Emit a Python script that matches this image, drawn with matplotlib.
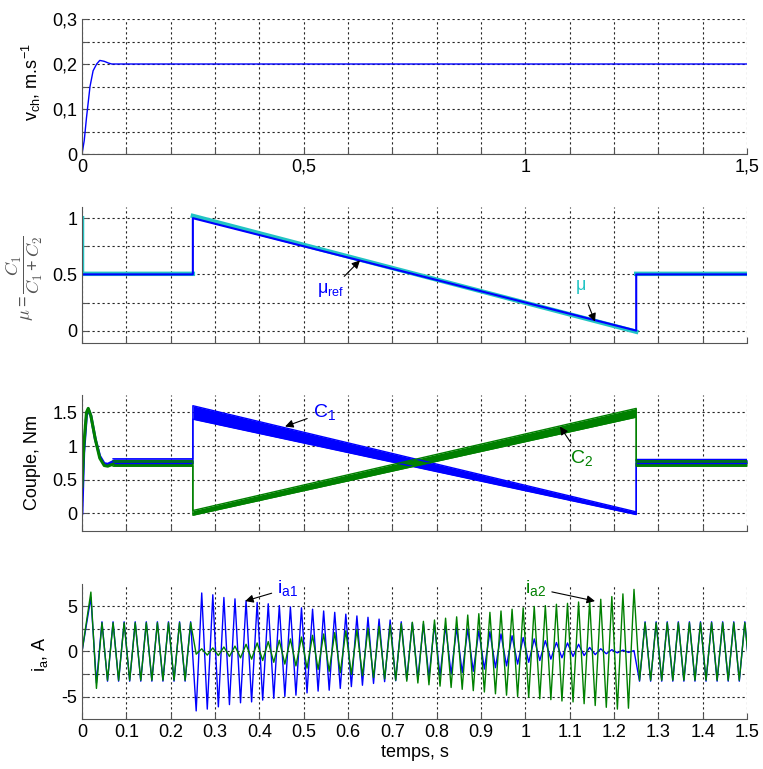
import numpy as np
import matplotlib
matplotlib.use("Agg")
import matplotlib.pyplot as plt

plt.rcParams['font.family'] = ['Liberation Sans', 'DejaVu Sans']
plt.rcParams['mathtext.fontset'] = 'custom'
plt.rcParams['mathtext.rm'] = 'Liberation Sans'
plt.rcParams['mathtext.default'] = 'regular'

BLUE = '#0000ff'
GREEN = '#008000'
CYAN = '#22c4c4'

# --- speed v_ch ---
speed_t = [0, 0.005, 0.01, 0.018, 0.025, 0.033, 0.04, 0.05, 0.06, 0.067, 1.5]
speed = [0, 0.03, 0.08, 0.15, 0.185, 0.2, 0.208, 0.206, 0.202, 0.2, 0.2]

# --- torque sharing ratio mu ---
mu_ref_t = [0, 0.25, 0.25, 1.25, 1.25, 1.5]
mu_ref = [0.5, 0.5, 1.0, 0.0, 0.5, 0.5]
mu_t = [0, 0, 0.25, 0.25, 0.25, 1.25, 1.25, 1.25, 1.5]
mu = [1.0, 0.505, 0.505, np.nan, 1.02, -0.01, np.nan, 0.505, 0.505]

# --- torques C1, C2 ---
start_t = [0, 0.004, 0.01, 0.014, 0.02, 0.03, 0.04, 0.05, 0.058, 0.07]
c1_start = [0, 0.9, 1.45, 1.55, 1.45, 1.1, 0.85, 0.74, 0.73, 0.77]
c2_start = [0.4, 1.0, 1.5, 1.56, 1.45, 1.1, 0.82, 0.71, 0.7, 0.73]
band_t = [0.07, 0.25, 0.25, 1.25, 1.25, 1.5]
c1_hi = [0.81, 0.81, 1.60, 0.02, 0.80, 0.80]
c1_lo = [0.74, 0.74, 1.40, -0.02, 0.74, 0.74]
c2_hi = [0.78, 0.78, 0.04, 1.56, 0.78, 0.78]
c2_lo = [0.70, 0.70, -0.03, 1.43, 0.70, 0.70]

# --- phase currents: one max and one min per electrical period ---
period = 0.025
ia1_max = [6.0, 3.3, 3.3, 3.3, 3.3, 3.3, 3.3, 3.3, 3.3, 3.3,
           6.5, 6.3, 6.0, 5.85, 5.65, 5.45, 5.3, 5.1, 4.95, 4.85,
           4.7, 4.5, 4.35, 4.15, 3.95, 3.8, 3.6, 3.5, 3.3, 3.2,
           3.05, 3.0, 2.85, 2.65, 2.5, 2.3, 2.2, 1.95, 1.75, 1.55,
           1.4, 1.2, 1.0, 0.95, 0.8, 0.45, 0.3, 0.2, 0.15, 0.1,
           3.3, 3.3, 3.3, 3.3, 3.3, 3.3, 3.3, 3.3, 3.3, 3.3]
ia1_min = [-3.5, -3.3, -3.3, -3.3, -3.3, -3.3, -3.3, -3.3, -3.3, -6.6,
           -6.4, -6.15, -5.9, -5.7, -5.6, -5.4, -5.2, -5.0, -4.85, -4.6,
           -4.4, -4.3, -4.1, -3.9, -3.75, -3.55, -3.35, -3.25, -3.1, -3.05,
           -2.9, -2.7, -2.5, -2.35, -2.2, -1.95, -1.8, -1.6, -1.4, -1.2,
           -1.0, -0.85, -0.7, -0.55, -0.45, -0.35, -0.25, -0.15, -0.1, -3.3,
           -3.3, -3.3, -3.3, -3.3, -3.3, -3.3, -3.3, -3.3, -3.3, -3.3]
ia2_max = [6.6, 3.2, 3.2, 3.2, 3.2, 3.2, 3.2, 3.2, 3.2, 3.2,
           0.3, 0.4, 0.5, 0.6, 0.8, 0.95, 1.1, 1.25, 1.4, 1.6,
           1.8, 1.95, 2.1, 2.3, 2.45, 2.6, 2.8, 2.95, 3.1, 3.25,
           3.35, 3.5, 3.7, 3.85, 4.05, 4.2, 4.35, 4.5, 4.7, 4.85,
           5.0, 5.1, 5.25, 5.35, 5.5, 5.65, 5.8, 6.1, 6.4, 6.9,
           3.2, 3.2, 3.2, 3.2, 3.2, 3.2, 3.2, 3.2, 3.2, 3.2]
ia2_min = [-4.1, -3.2, -3.2, -3.2, -3.2, -3.2, -3.2, -3.2, -3.2, -0.3,
           -0.4, -0.45, -0.55, -0.7, -0.85, -1.0, -1.2, -1.4, -1.6, -1.85,
           -2.0, -2.2, -2.35, -2.55, -2.7, -2.9, -3.05, -3.2, -3.3, -3.5,
           -3.7, -3.85, -4.0, -4.2, -4.35, -4.5, -4.7, -4.85, -5.0, -5.1,
           -5.25, -5.35, -5.5, -5.6, -5.8, -6.0, -6.2, -6.4, -6.3, -3.2,
           -3.2, -3.2, -3.2, -3.2, -3.2, -3.2, -3.2, -3.2, -3.2, -3.2]

x_ticks_fine = [0, 0.1, 0.2, 0.3, 0.4, 0.5, 0.6, 0.7, 0.8, 0.9, 1.0, 1.1, 1.2, 1.3, 1.4, 1.5]
x_labels_top = ['0', '', '', '', '', '0,5', '', '', '', '', '1', '', '', '', '', '1,5']
x_labels_bottom = ['0', '0.1', '0.2', '0.3', '0.4', '0.5', '0.6', '0.7', '0.8', '0.9',
                   '1', '1.1', '1.2', '1.3', '1.4', '1.5']


def wave(vmax, vmin):
    t_max = 0.02 + period * np.arange(len(vmax))
    t_min = t_max + period / 2
    t = np.concatenate([[0], np.column_stack([t_max, t_min]).ravel()])
    y = np.concatenate([[0], np.column_stack([vmax, vmin]).ravel()])
    return t, y


def style(ax, yticks, ylabels):
    ax.set_xlim(0, 1.5)
    ax.set_xticks(x_ticks_fine)
    ax.set_yticks(yticks)
    ax.set_yticklabels(ylabels)
    ax.grid(True, color='#222222', linestyle=(0, (2, 2.5)), linewidth=0.8)
    ax.spines['top'].set_visible(False)
    ax.spines['right'].set_visible(False)
    for s in ['left', 'bottom']:
        ax.spines[s].set_color('#555555')
    ax.tick_params(direction='in', length=4, labelsize=13, color='#555555')
    ax.set_axisbelow(True)


arrow = dict(arrowstyle='-|>', color='black', lw=0.8, shrinkA=2, shrinkB=0,
             mutation_scale=12)

fig = plt.figure(figsize=(7.63, 7.69), dpi=100)
L, W = 0.1075, 0.8716
ax1 = fig.add_axes([L, 0.7997, W, 0.1756])
ax2 = fig.add_axes([L, 0.5540, W, 0.1769])
ax3 = fig.add_axes([L, 0.3099, W, 0.1765])
ax4 = fig.add_axes([L, 0.0650, W, 0.1756])

# panel 1
ax1.plot(speed_t, speed, color=BLUE, lw=1)
style(ax1, [0, 0.05, 0.1, 0.15, 0.2, 0.25, 0.3], ['0', '', '0,1', '', '0,2', '', '0,3'])
ax1.set_ylim(0, 0.3)
ax1.set_xticklabels(x_labels_top)
ax1.set_ylabel('v$_{ch}$, m.s$^{-1}$', fontsize=13)
ax1.yaxis.set_label_coords(-0.058, 0.53)

# panel 2
ax2.plot(mu_t, mu, color=CYAN, lw=3.2)
ax2.plot(mu_ref_t, mu_ref, color=BLUE, lw=1.5)
style(ax2, [0, 0.25, 0.5, 0.75, 1.0], ['0', '', '0.5', '', '1'])
ax2.set_ylim(-0.11, 1.1)
ax2.set_xticklabels([])
ax2.set_ylabel(r'$\mathit{\mu} = \dfrac{\mathit{C}_\mathrm{1}}{\mathit{C}_\mathrm{1}+\mathit{C}_\mathrm{2}}$',
               fontsize=13, color='#555555', math_fontfamily='cm')
ax2.yaxis.set_label_coords(-0.056, 0.48)
ax2.annotate('μ$_{ref}$', xy=(0.627, 0.625), xytext=(0.53, 0.36), color=BLUE,
             fontsize=13, ha='left', va='center', arrowprops=dict(arrow, shrinkA=2))
ax2.annotate('μ', xy=(1.157, 0.08), xytext=(1.125, 0.4), color=CYAN,
             fontsize=13, ha='center', va='center', arrowprops=dict(arrow, shrinkA=6))

# panel 3
ax3.plot(start_t, c1_start, color=BLUE, lw=2)
ax3.fill_between(band_t, c1_lo, c1_hi, color=BLUE, lw=0)
ax3.plot(band_t, c1_hi, color=BLUE, lw=1)
ax3.plot(band_t, c1_lo, color=BLUE, lw=1)
ax3.plot(start_t, c2_start, color=GREEN, lw=2.2)
ax3.fill_between(band_t, c2_lo, c2_hi, color=GREEN, lw=0)
ax3.plot(band_t, c2_hi, color=GREEN, lw=1)
ax3.plot(band_t, c2_lo, color=GREEN, lw=1)
style(ax3, [0, 0.5, 1.0, 1.5], ['0', '0.5', '1', '1.5'])
ax3.set_ylim(-0.26, 1.76)
ax3.set_xticklabels([])
ax3.set_ylabel('Couple, Nm', fontsize=13)
ax3.yaxis.set_label_coords(-0.062, 0.5)
ax3.annotate('C$_1$', xy=(0.458, 1.29), xytext=(0.52, 1.5), color=BLUE,
             fontsize=14, ha='left', va='center', arrowprops=arrow)
ax3.annotate('C$_2$', xy=(1.078, 1.29), xytext=(1.1, 0.82), color=GREEN,
             fontsize=14, ha='left', va='center', arrowprops=arrow)

# panel 4
t1, y1 = wave(ia1_max, ia1_min)
t2, y2 = wave(ia2_max, ia2_min)
ax4.plot(t1, y1, color=BLUE, lw=1)
ax4.plot(t2, y2, color=GREEN, lw=1)
style(ax4, [-5, -2.5, 0, 2.5, 5], ['-5', '', '0', '', '5'])
ax4.set_ylim(-7.5, 7.5)
ax4.set_xticklabels(x_labels_bottom)
ax4.set_xlabel('temps, s', fontsize=13, labelpad=2)
ax4.set_ylabel('i$_{a}$, A', fontsize=13)
ax4.yaxis.set_label_coords(-0.048, 0.48)
ax4.annotate('i$_{a1}$', xy=(0.368, 5.6), xytext=(0.44, 7.0), color=BLUE,
             fontsize=14, ha='left', va='center', arrowprops=arrow)
ax4.annotate('i$_{a2}$', xy=(1.157, 5.6), xytext=(1.0, 7.0), color=GREEN,
             fontsize=14, ha='left', va='center', arrowprops=arrow)

fig.savefig('out.png', dpi=100)
